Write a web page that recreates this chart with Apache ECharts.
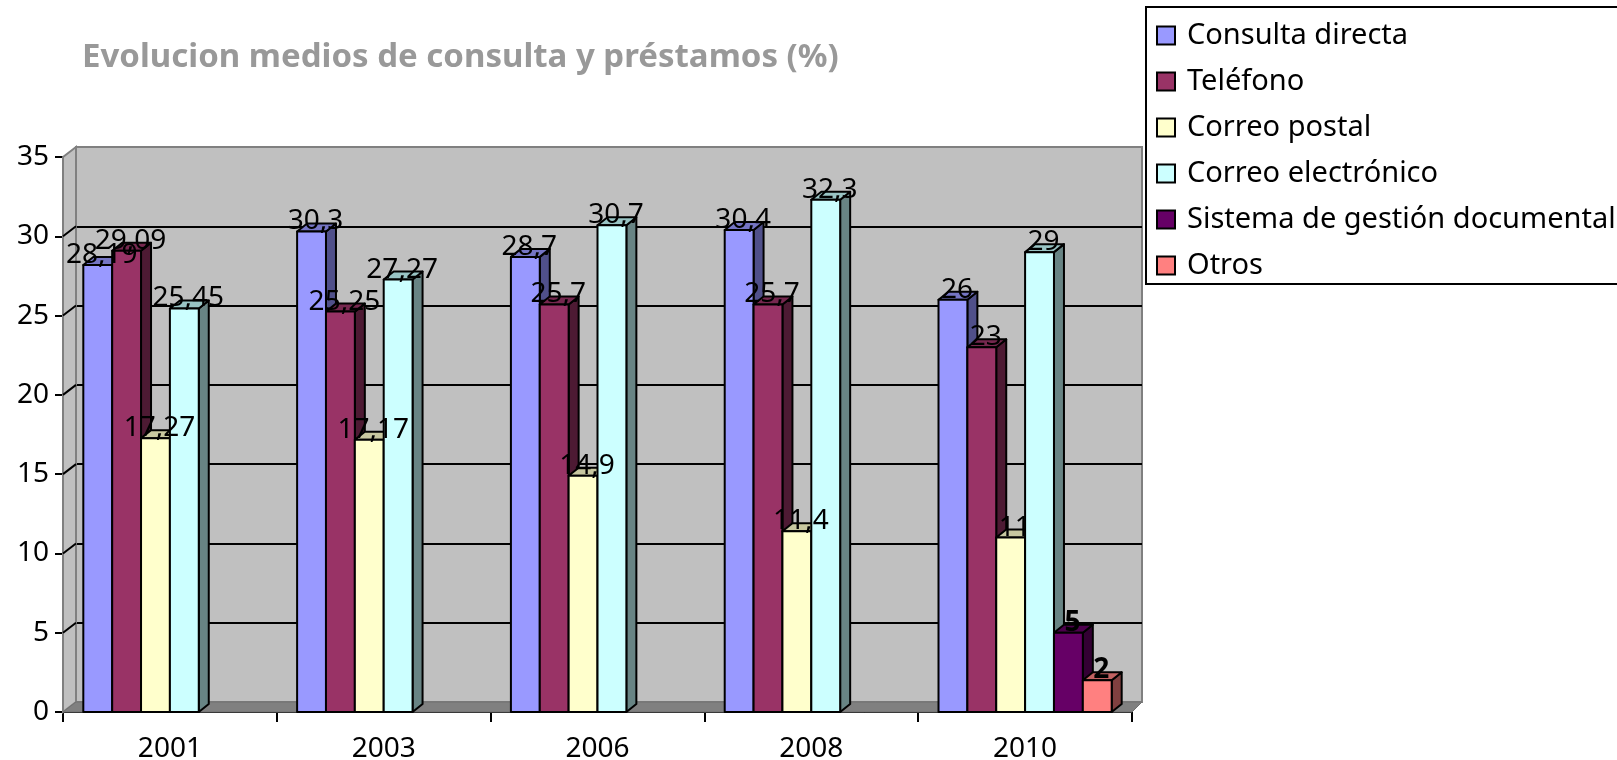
<!DOCTYPE html>
<html>
<head>
<meta charset="utf-8">
<title>Evolucion medios de consulta y préstamos</title>
<script src="https://cdn.jsdelivr.net/npm/echarts@6/dist/echarts.min.js"></script>
<style>
  html, body { margin: 0; padding: 0; background: #fff; }
  #chart { width: 1617px; height: 760px; }
</style>
</head>
<body>
<div id="chart"></div>
<script>
// datos
const years = ["2001", "2003", "2006", "2008", "2010"];
const consultaDirecta = [28.19, 30.3, 28.7, 30.4, 26];
const telefono = [29.09, 25.25, 25.7, 25.7, 23];
const correoPostal = [17.27, 17.17, 14.9, 11.4, 11];
const correoElectronico = [25.45, 27.27, 30.7, 32.3, 29];
const sistemaGestion = [null, null, null, null, 5];
const otros = [null, null, null, null, 2];
const seriesNames = [
  "Consulta directa",
  "Teléfono",
  "Correo postal",
  "Correo electrónico",
  "Sistema de gestión documental",
  "Otros",
];
const seriesValues = [consultaDirecta, telefono, correoPostal, correoElectronico, sistemaGestion, otros];

// colores: cara frontal, cara superior, cara lateral
const frontColors = ["#9999FF", "#993366", "#FFFFCC", "#CCFFFF", "#660066", "#FF8080"];
const topColors = ["#7575C4", "#76284F", "#C8C8A0", "#99C4C4", "#4D004D", "#C26262"];
const sideColors = ["#50508A", "#4D1A33", "#808066", "#688484", "#330033", "#804040"];

const FONT = "Noto Sans";
const FRONT = { left: 63, top: 157, width: 1069, height: 555 };
const DX = 13, DY = 10; // profundidad de las paredes
const BDX = 10, BDY = 8; // profundidad de las barras
const BAR_RATIO = 0.135;

const myChart = echarts.init(document.getElementById("chart"));

const renderBar = function (params, api) {
  const val = api.value(1);
  if (val == null || isNaN(val)) return null;
  const base = api.coord([api.value(0), 0]);
  const top = api.coord([api.value(0), val]);
  const w = api.size([1, 0])[0] * BAR_RATIO;
  const i = params.seriesIndex;
  const x0 = base[0] + (i - 3) * w;
  const y0 = base[1];
  const y1 = top[1];
  const line = { stroke: "#000", lineWidth: 2, lineJoin: "round" };
  const label = String(val).replace(".", ",");
  return {
    type: "group",
    children: [
      {
        type: "polygon",
        shape: { points: [[x0 + w, y1], [x0 + w + BDX, y1 - BDY], [x0 + w + BDX, y0 - BDY], [x0 + w, y0]] },
        style: Object.assign({ fill: sideColors[i] }, line),
      },
      {
        type: "polygon",
        shape: { points: [[x0, y1], [x0 + BDX, y1 - BDY], [x0 + w + BDX, y1 - BDY], [x0 + w, y1]] },
        style: Object.assign({ fill: topColors[i] }, line),
      },
      {
        type: "rect",
        shape: { x: x0, y: y1, width: w, height: y0 - y1 },
        style: Object.assign({ fill: frontColors[i] }, line),
      },
      {
        type: "text",
        z2: 100,
        x: x0 + w / 2 + 4,
        y: y1 + 4,
        style: {
          text: label,
          fill: "#000",
          font: (i >= 4 ? "bold " : "") + "28px '" + FONT + "'",
          align: "center",
          verticalAlign: "bottom",
        },
      },
    ],
  };
};

const series = seriesNames.map(function (name, i) {
  return {
    name: name,
    type: "custom",
    xAxisIndex: 1,
    yAxisIndex: 1,
    renderItem: renderBar,
    itemStyle: { color: frontColors[i], borderColor: "#000", borderWidth: 2 },
    encode: { x: 0, y: 1 },
    data: seriesValues[i].map(function (v, k) {
      return [k, v == null ? "-" : v];
    }),
    z: 2,
  };
});

myChart.setOption({
  animation: false,
  title: {
    text: "Evolucion medios de consulta y préstamos (%)",
    left: 82,
    top: 41,
    padding: 0,
    textStyle: { fontFamily: FONT, fontSize: 33, fontWeight: "bold", color: "#999999" },
  },
  legend: {
    orient: "vertical",
    left: 1146,
    top: 7,
    padding: [14, 10, 4, 10],
    itemGap: 17,
    itemWidth: 18,
    itemHeight: 18,
    icon: "rect",
    borderColor: "#000",
    borderWidth: 2,
    backgroundColor: "#fff",
    itemStyle: { borderColor: "#000", borderWidth: 2 },
    textStyle: { fontFamily: FONT, fontSize: 29, color: "#000", lineHeight: 29, padding: [0, 0, 0, 7] },
    data: seriesNames,
  },
  grid: [
    {
      // pared del fondo
      left: FRONT.left + DX,
      top: FRONT.top - DY,
      width: FRONT.width - 3,
      height: FRONT.height,
      show: true,
      backgroundColor: "#C0C0C0",
      borderColor: "#808080",
      borderWidth: 2,
      outerBoundsMode: "none",
    },
    {
      left: FRONT.left,
      top: FRONT.top,
      width: FRONT.width,
      height: FRONT.height,
      outerBoundsMode: "none",
    },
  ],
  xAxis: [
    { type: "value", gridIndex: 0, show: false, min: 0, max: 1 },
    {
      type: "category",
      gridIndex: 1,
      data: years,
      axisLine: { lineStyle: { color: "#000", width: 2 } },
      axisTick: { show: true, length: 10, lineStyle: { color: "#000", width: 2 } },
      axisLabel: { fontFamily: FONT, fontSize: 28, color: "#000", margin: 23 },
      splitLine: { show: false },
    },
  ],
  yAxis: [
    {
      type: "value",
      gridIndex: 0,
      min: 0,
      max: 35,
      interval: 5,
      axisLine: { show: false },
      axisTick: { show: false },
      axisLabel: { show: false },
      splitLine: { show: true, showMinLine: false, showMaxLine: false, lineStyle: { color: "#000", width: 2 } },
    },
    {
      type: "value",
      gridIndex: 1,
      min: 0,
      max: 35,
      interval: 5,
      axisLine: { show: true, lineStyle: { color: "#000", width: 2 } },
      axisTick: { show: true, length: 8, lineStyle: { color: "#000", width: 2 } },
      axisLabel: { fontFamily: FONT, fontSize: 28, color: "#000", margin: 14 },
      splitLine: { show: false },
    },
  ],
  series: series,
});

// suelo, pared izquierda y lineas diagonales
const yTicks = [5, 10, 15, 20, 25, 30];
const fl = FRONT.left, ft = FRONT.top, fw = FRONT.width, fb = FRONT.top + FRONT.height;
const graphics = [
  {
    type: "polygon",
    z: 1,
    shape: { points: [[fl, ft], [fl + DX, ft - DY], [fl + DX, fb - DY], [fl, fb]] },
    style: { fill: "#C0C0C0", stroke: "#808080", lineWidth: 2 },
  },
  {
    type: "polygon",
    z: 1,
    shape: { points: [[fl, fb], [fl + DX, fb - DY], [fl + fw + DX - 3, fb - DY], [fl + fw, fb]] },
    style: { fill: "#808080", stroke: "#707070", lineWidth: 1 },
  },
];
yTicks.forEach(function (v) {
  const y = myChart.convertToPixel({ yAxisIndex: 1 }, v);
  graphics.push({
    type: "line",
    z: 1,
    shape: { x1: fl, y1: y, x2: fl + DX, y2: y - DY },
    style: { stroke: "#000", lineWidth: 2 },
  });
});
myChart.setOption({ graphic: graphics });

window.addEventListener("resize", function () {
  myChart.resize();
});
</script>
</body>
</html>
